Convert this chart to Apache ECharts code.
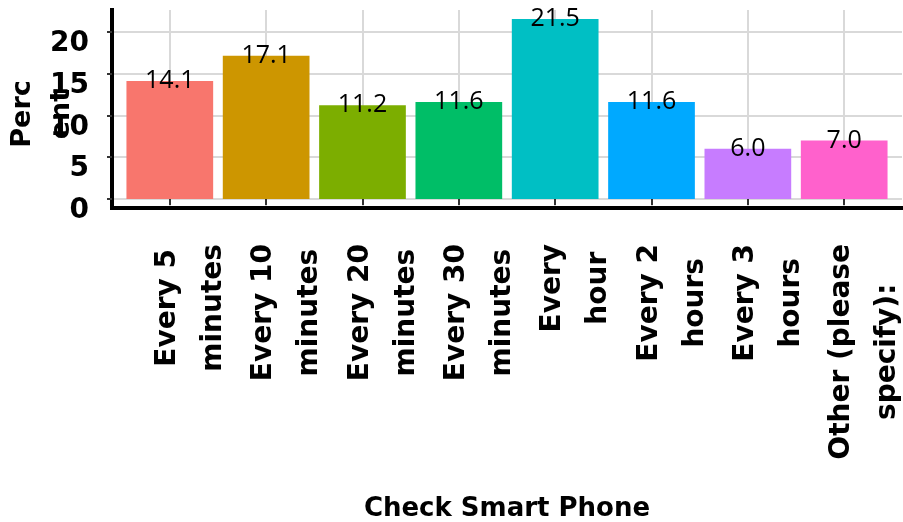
<!DOCTYPE html>
<html>
<head>
<meta charset="utf-8">
<title>Check Smart Phone</title>
<script src="https://cdn.jsdelivr.net/npm/echarts@6/dist/echarts.min.js"></script>
<style>
  html, body { margin: 0; padding: 0; background: #ffffff; }
  #chart { width: 903px; height: 522px; }
</style>
</head>
<body>
<div id="chart"></div>
<script>
// How often respondents check their smart phone (% of respondents)
const categories = [
  'Every 5\nminutes',
  'Every 10\nminutes',
  'Every 20\nminutes',
  'Every 30\nminutes',
  'Every\nhour',
  'Every 2\nhours',
  'Every 3\nhours',
  'Other (please\nspecify):'
];
const percents = [14.1, 17.1, 11.2, 11.6, 21.5, 11.6, 6.0, 7.0];
const barColors = ['#F8766D', '#CD9600', '#7CAE00', '#00BE67', '#00BFC4', '#00A9FF', '#C77CFF', '#FF61CC'];
const yTickStep = 5;
const yTickTop = 25;

// Plot panel geometry (pixels)
const panel = { left: 112, top: 10, width: 790, height: 198 };

// Continuous scale padded by 5% of the data range, discrete scale padded by 0.6 of a band
const yMax = Math.max(...percents);
const yLo = -0.05 * yMax;
const yHi = yMax * 1.05;
const pxPerUnit = panel.height / (yHi - yLo);
const zeroY = panel.top + yHi * pxPerUnit;
const band = panel.width / (categories.length + 0.2);

const FONT = 'DejaVu Sans';
const gridColor = '#d9d9d9';
const tickColor = '#333333';

const chart = echarts.init(document.getElementById('chart'), null, { renderer: 'canvas' });

chart.setOption({
  backgroundColor: '#ffffff',
  animation: false,
  grid: [
    // bars
    { left: panel.left + 0.1 * band, top: panel.top, width: categories.length * band, height: panel.height, outerBoundsMode: 'none' },
    // panel frame + axis titles
    { left: panel.left, top: panel.top, width: panel.width, height: panel.height, outerBoundsMode: 'none' },
    // y ticks, labels and horizontal grid lines
    { left: panel.left, top: zeroY - yTickTop * pxPerUnit, width: panel.width, height: yTickTop * pxPerUnit, outerBoundsMode: 'none' }
  ],
  xAxis: [
    {
      gridIndex: 0,
      type: 'category',
      data: categories,
      boundaryGap: true,
      axisLine: { show: false },
      axisTick: { show: true, alignWithLabel: true, length: 6, lineStyle: { color: tickColor, width: 2 } },
      splitLine: { show: true, alignWithLabel: true, lineStyle: { color: gridColor, width: 2 } },
      axisLabel: {
        interval: 0,
        rotate: 90,
        margin: 36,
        align: 'right',
        verticalAlign: 'middle',
        padding: [42, 0, 0, 0],
        formatter: function (v) {
          return v.split('\n').map(function (s) { return '{c|' + s + '}'; }).join('\n');
        },
        rich: {
          c: { align: 'center', fontFamily: FONT, fontWeight: 'bold', fontSize: 28, lineHeight: 46, color: '#000' }
        }
      }
    },
    {
      gridIndex: 1,
      type: 'value',
      min: 0,
      max: 1,
      axisLine: { show: true, onZero: false, lineStyle: { color: '#000', width: 4, cap: 'square' } },
      axisTick: { show: false },
      axisLabel: { show: false },
      splitLine: { show: false },
      name: 'Check Smart Phone',
      nameLocation: 'middle',
      nameGap: 301,
      nameTextStyle: { fontFamily: FONT, fontWeight: 'bold', fontSize: 26, color: '#000', verticalAlign: 'middle' }
    },
    {
      gridIndex: 2,
      type: 'value',
      min: 0,
      max: 1,
      show: false
    }
  ],
  yAxis: [
    {
      gridIndex: 0,
      type: 'value',
      min: yLo,
      max: yHi,
      show: false
    },
    {
      gridIndex: 1,
      type: 'value',
      min: 0,
      max: 1,
      axisLine: { show: true, onZero: false, lineStyle: { color: '#000', width: 4, cap: 'square' } },
      axisTick: { show: false },
      axisLabel: { show: false },
      splitLine: { show: false },
      name: 'Perc\nent',
      nameLocation: 'middle',
      nameRotate: 90,
      nameGap: 70,
      nameTextStyle: {
        fontFamily: FONT, fontWeight: 'bold', fontSize: 27, lineHeight: 39, color: '#000',
        align: 'center', verticalAlign: 'middle', padding: [0, 10, 0, 0]
      }
    },
    {
      gridIndex: 2,
      type: 'value',
      min: 0,
      max: yTickTop,
      interval: yTickStep,
      axisLine: { show: false },
      axisTick: { show: true, length: 5, lineStyle: { color: tickColor, width: 2 } },
      axisLabel: {
        showMaxLabel: false, margin: 23, fontFamily: FONT, fontWeight: 'bold', fontSize: 28, color: '#000',
        verticalAlign: 'top', lineHeight: 24
      },
      splitLine: { show: true, lineStyle: { color: gridColor, width: 2 } }
    }
  ],
  series: [
    {
      type: 'bar',
      xAxisIndex: 0,
      yAxisIndex: 0,
      barWidth: '90%',
      data: percents.map(function (v, i) {
        return { value: v, itemStyle: { color: barColors[i] } };
      }),
      label: {
        show: true,
        position: ['50%', 0],
        align: 'center',
        verticalAlign: 'middle',
        fontFamily: 'Open Sans',
        fontSize: 25,
        color: '#000',
        formatter: function (p) { return p.value.toFixed(1); }
      },
      z: 3
    }
  ]
});
</script>
</body>
</html>
